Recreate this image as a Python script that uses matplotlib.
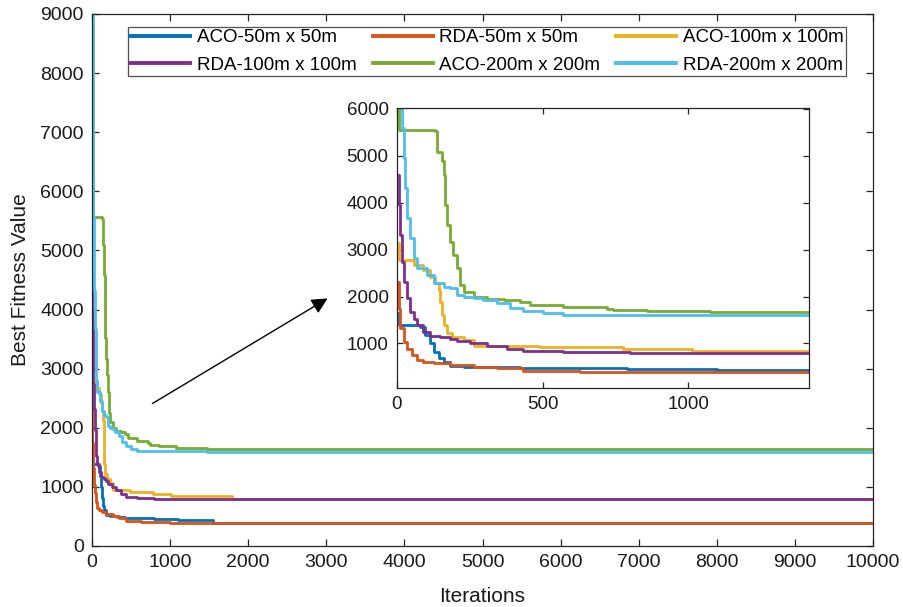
import matplotlib
matplotlib.use('Agg')
import matplotlib.pyplot as plt

plt.rcParams['font.family'] = ['Liberation Sans', 'DejaVu Sans']

# best-fitness breakpoints (iteration, value) for each run
aco50_iter = [0, 6, 63, 80, 97, 114, 126, 143, 160, 183, 229, 320, 423, 789, 1100, 1550, 10000]
aco50_fit = [1650, 1390, 1390, 1355, 1180, 1000, 820, 680, 610, 523, 500, 490, 470, 453, 440, 392, 392]

rda50_iter = [0, 6, 11, 23, 34, 51, 69, 91, 126, 183, 263, 343, 434, 629, 1000, 10000]
rda50_fit = [2300, 1745, 1320, 1035, 890, 750, 645, 610, 575, 540, 500, 470, 420, 400, 392, 392]

aco100_iter = [0, 6, 57, 91, 114, 131, 143, 149, 154, 160, 171, 189, 229, 263, 486, 777, 1012, 1790, 10000]
aco100_fit = [3150, 2780, 2670, 2565, 2420, 2280, 2140, 1890, 1605, 1390, 1215, 1140, 1070, 950, 915, 879, 843, 800, 800]

rda100_iter = [0, 6, 11, 17, 23, 34, 46, 57, 69, 91, 114, 149, 183, 206, 251, 309, 377, 434, 571, 800, 10000]
rda100_fit = [4600, 3950, 3310, 2740, 2315, 1960, 1675, 1530, 1390, 1250, 1165, 1130, 1105, 1050, 1000, 950, 880, 835, 808, 800, 800]

aco200_iter = [0, 8, 131, 137, 154, 160, 166, 171, 183, 194, 206, 217, 229, 263, 309, 366, 423, 457,
               571, 720, 743, 857, 1074, 1470, 3760, 10000]
aco200_fit = [6050, 5560, 5540, 5090, 4880, 4590, 3950, 3525, 3170, 2885, 2600, 2245, 2100, 1995, 1945, 1925, 1890, 1830,
              1780, 1745, 1710, 1695, 1665, 1648, 1638, 1638]

rda200_iter = [0, 12, 17, 23, 29, 34, 46, 57, 69, 103, 126, 160, 183, 206, 229, 263, 297, 343, 389, 434,
               503, 571, 1470, 10000]
rda200_fit = [9000, 6100, 5590, 4950, 4310, 3670, 3240, 2815, 2600, 2460, 2280, 2210, 2175, 2030, 1995, 1975, 1925, 1855, 1760, 1690,
              1640, 1605, 1592, 1592]

series = [
    ('ACO-50m x 50m', aco50_iter, aco50_fit, '#0072BD'),
    ('RDA-50m x 50m', rda50_iter, rda50_fit, '#D95319'),
    ('ACO-100m x 100m', aco100_iter, aco100_fit, '#EDB120'),
    ('RDA-100m x 100m', rda100_iter, rda100_fit, '#7E2F8E'),
    ('ACO-200m x 200m', aco200_iter, aco200_fit, '#77AC30'),
    ('RDA-200m x 200m', rda200_iter, rda200_fit, '#4DBEEE'),
]

edge = '#262626'


def style_axes(ax, fontsize, ticklen):
    for s in ax.spines.values():
        s.set_color(edge)
        s.set_linewidth(0.9)
    ax.tick_params(direction='in', top=True, right=True, length=ticklen, width=0.9,
                   colors=edge, labelcolor='#1a1a1a', labelsize=fontsize, pad=6)


fig = plt.figure(figsize=(9.04, 6.07), dpi=100)
ax = fig.add_axes([92 / 904, 61 / 607, 781 / 904, 532 / 607])

handles = []
for label, it, fit, c in series:
    h, = ax.plot(it, fit, drawstyle='steps-post', color=c, lw=2.0, label=label)
    handles.append(h)

ax.set_xlim(0, 10000)
ax.set_ylim(0, 9000)
ax.set_xticks(range(0, 10001, 1000))
ax.set_yticks(range(0, 9001, 1000))
style_axes(ax, 14, 5)
ax.set_xlabel('Iterations', fontsize=15, color='#1a1a1a')
ax.set_ylabel('Best Fitness Value', fontsize=15, color='#1a1a1a')
ax.xaxis.set_label_coords(0.4995, -0.077)
ax.yaxis.set_label_coords(-0.079, 0.5)

# legend fills column by column, so interleave to read row by row
order = [0, 3, 1, 4, 2, 5]
leg = ax.legend([handles[i] for i in order], [series[i][0] for i in order],
                ncol=3, loc='upper left', bbox_to_anchor=(36 / 781, 1 - 13 / 532),
                borderaxespad=0, fontsize=13.5, handlelength=3.2, handletextpad=0.35,
                columnspacing=0.85, labelspacing=0.55, borderpad=0.12,
                frameon=True, fancybox=False)
leg.get_frame().set_edgecolor(edge)
leg.get_frame().set_linewidth(0.9)
for ln in leg.get_lines():
    ln.set_linewidth(2.8)

ax.annotate('', xy=(3047, 4213), xytext=(743, 2386),
            arrowprops=dict(arrowstyle='-|>', color='black', lw=1.0, mutation_scale=24))

# zoomed view of the first iterations
ins = fig.add_axes([397 / 904, (607 - 388) / 607, 412 / 904, 280 / 607])
for label, it, fit, c in series:
    ins.plot(it, fit, drawstyle='steps-post', color=c, lw=2.0)
ins.set_xlim(0, 1415)
ins.set_ylim(50, 6020)
ins.set_xticks([0, 500, 1000])
ins.set_yticks(range(1000, 6001, 1000))
style_axes(ins, 13.5, 4)

fig.savefig('out.png', dpi=100)
